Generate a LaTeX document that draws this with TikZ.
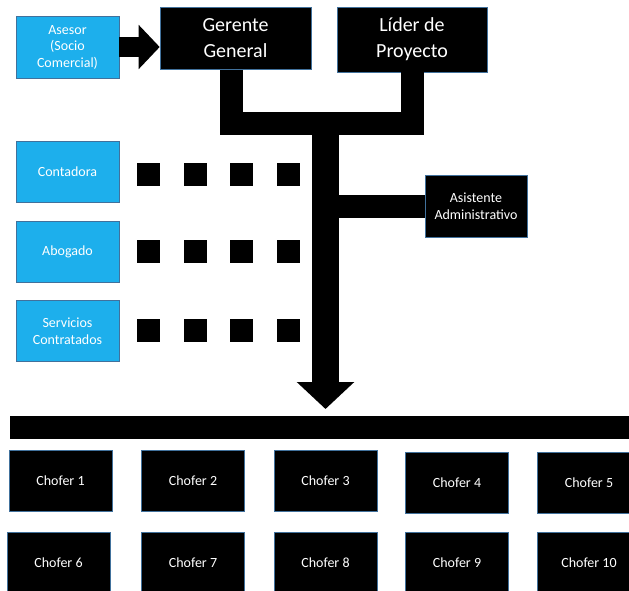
\documentclass[tikz,border=0pt]{standalone}
\usepackage{fontspec}
\setmainfont{Carlito}
\usepackage{xcolor}
\usetikzlibrary{arrows.meta,positioning,calc}

\definecolor{celeste}{RGB}{29,175,236}
\definecolor{borde}{RGB}{65,113,156}

\begin{document}
\begin{tikzpicture}[x=1pt, y=-1pt,
    azul/.style={draw=borde, line width=0.6pt, fill=celeste, text=white, align=center,
        minimum width=103pt, minimum height=61pt, inner sep=0pt,
        font=\fontsize{14}{16.5}\selectfont},
    negro/.style={draw=borde, line width=0.6pt, fill=black, text=white, align=center, inner sep=0pt},
    jefe/.style={negro, minimum width=151pt, minimum height=62pt, font=\fontsize{20}{26}\selectfont},
    chofer/.style={negro, minimum width=103pt, minimum height=61pt, font=\fontsize{14}{16.5}\selectfont},
    cuadro/.style={fill=black, minimum size=23pt, inner sep=0pt},
    barra/.style={line width=23pt, line join=miter}]
    \useasboundingbox (0,0) rectangle (629,590);
    \clip (0,0) rectangle (629,590);

    % Asesor y jefes
    \node[azul, minimum height=62pt] (asesor) at (67.5,47) {Asesor\\(Socio\\Comercial)};
    \node[jefe] (gerente) at (235.5,38.5) {Gerente\\General};
    \node[jefe, minimum width=150pt, minimum height=65pt] (lider) at (412,39.5) {Líder de\\Proyecto};

    % Asistente
    \node[negro, minimum width=102pt, minimum height=62pt, font=\fontsize{14}{16.5}\selectfont]
        (asistente) at (476,206) {Asistente\\Administrativo};

    % Apoyo externo
    \node[azul] (contadora) at (67.5,171.5) {Contadora};
    \node[azul] (abogado) at (67.5,251.5) {Abogado};
    \node[azul] (servicios) at (67.5,331) {Servicios\\Contratados};

    % Cuadros punteados
    \foreach \fila/\y in {contadora/174, abogado/251.5, servicios/330.5} {
        \foreach \x [count=\i] in {148.5,195,241.5,288.5} {
            \node[cuadro] (\fila-\i) at (\x,\y) {};
        }
    }

    % Conectores
    \coordinate (codo) at (325.5,123);
    \coordinate (punta) at (325.5,409);
    \draw[barra] ([xshift=-4pt]gerente.south) |- (codo) -| (lider.south);
    \draw[line width=27pt, -{Triangle[length=27pt, width=56pt]}] (codo) -- (punta);
    \draw[barra] (asistente.west) -- (asistente.west -| codo);
    \draw[line width=20pt, -{Triangle[length=21pt, width=43pt]}] (asesor.east) -- (asesor.east -| gerente.west);

    % Barra de choferes
    \fill (10,416) rectangle (640,439);

    % Choferes
    \foreach \n/\x/\y in {1/60.5/480.5, 2/193/480.5, 3/325.5/480.5, 4/457/483, 5/589/483,
                          6/58.5/562.5, 7/193/562.5, 8/325.5/562.5, 9/457/562.5, 10/589/562.5} {
        \node[chofer] (chofer\n) at (\x,\y) {Chofer \n};
    }

\end{tikzpicture}
\end{document}
